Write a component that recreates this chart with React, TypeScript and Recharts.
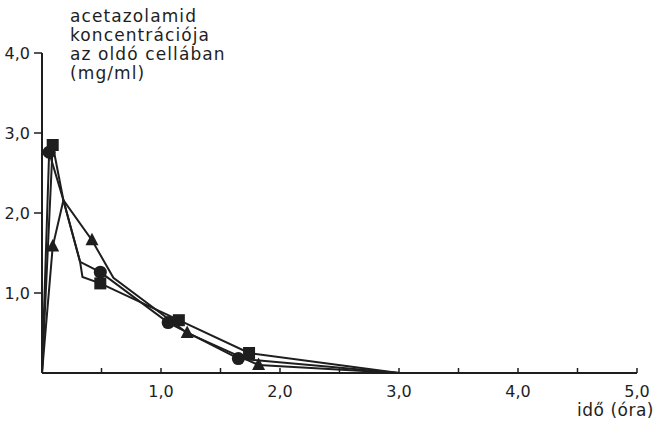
import React from 'react';
import { LineChart, Line, XAxis, YAxis } from 'recharts';

// time (h) and concentration (mg/ml) for the three formulations;
// only the measured points get a marker, the rest are bends of the drawn curve
const circleTime = [0, 0.06, 0.18, 0.32, 0.49, 1.06, 1.65, 3.0];
const circleConc = [0, 2.76, 2.16, 1.39, 1.26, 0.63, 0.18, 0];
const circleMeasured = [false, true, false, false, true, true, true, false];

const squareTime = [0, 0.09, 0.18, 0.32, 0.34, 0.49, 1.15, 1.74, 3.0];
const squareConc = [0, 2.85, 2.16, 1.39, 1.2, 1.12, 0.66, 0.25, 0];
const squareMeasured = [false, true, false, false, false, true, true, true, false];

const triangleTime = [0, 0.09, 0.18, 0.42, 0.6, 1.22, 1.82, 3.0];
const triangleConc = [0, 1.58, 2.16, 1.66, 1.19, 0.5, 0.1, 0];
const triangleMeasured = [false, true, false, true, false, true, true, false];

const xTicks = [0.5, 1, 1.5, 2, 2.5, 3, 3.5, 4, 4.5, 5];
const yTicks = [1, 2, 3, 4];

const titleLines = ['acetazolamid', 'koncentrációja', 'az oldó cellában', '(mg/ml)'];
const xTitle = 'idő (óra)';

const INK = '#1e1e1e';
const FONT = '"DejaVu Sans", sans-serif';

const toRows = (ts: number[], cs: number[]) => ts.map((t, i) => ({ t, c: cs[i] }));

const fmt = (v: number) => v.toFixed(1).replace('.', ',');

type Kind = 'circle' | 'square' | 'triangle';

const makeDot = (kind: Kind, measured: boolean[]) => (props: any) => {
  const { cx, cy, index } = props;
  const key = `${kind}-${index}`;
  if (!measured[index]) return <g key={key} />;
  if (kind === 'circle') return <circle key={key} cx={cx} cy={cy} r={6.5} fill={INK} />;
  if (kind === 'square')
    return <rect key={key} x={cx - 6} y={cy - 6} width={12} height={12} fill={INK} />;
  return (
    <polygon
      key={key}
      points={`${cx},${cy - 7.5} ${cx - 6.5},${cy + 5} ${cx + 6.5},${cy + 5}`}
      fill={INK}
    />
  );
};

const TimeTick = (props: any) => {
  const { x, y, payload } = props;
  const v = payload.value as number;
  const whole = Number.isInteger(v);
  return (
    <g>
      <line x1={x} y1={y} x2={x} y2={y - 5} stroke={INK} strokeWidth={1.5} />
      {whole && (
        <text x={x} y={y + 24} textAnchor="middle" fontSize={16} fontFamily={FONT} fill={INK}>
          {fmt(v)}
        </text>
      )}
    </g>
  );
};

const series: { kind: Kind; ts: number[]; cs: number[]; m: boolean[] }[] = [
  { kind: 'triangle', ts: triangleTime, cs: triangleConc, m: triangleMeasured },
  { kind: 'circle', ts: circleTime, cs: circleConc, m: circleMeasured },
  { kind: 'square', ts: squareTime, cs: squareConc, m: squareMeasured },
];

export default function App() {
  return (
    <div style={{ position: 'absolute', left: 0, top: 0, width: 654, height: 427, background: '#fff' }}>
      <LineChart width={654} height={427} margin={{ top: 53, right: 17, bottom: 0, left: 0 }}>
        <XAxis
          dataKey="t"
          type="number"
          domain={[0, 5]}
          ticks={xTicks}
          allowDuplicatedCategory={false}
          height={54}
          tickSize={0}
          tickMargin={0}
          tickLine={false}
          axisLine={{ stroke: INK, strokeWidth: 2 }}
          tick={<TimeTick />}
          interval={0}
        />
        <YAxis
          type="number"
          domain={[0, 4]}
          ticks={yTicks}
          width={42}
          tickSize={8}
          tickMargin={4}
          tickFormatter={fmt}
          axisLine={{ stroke: INK, strokeWidth: 2 }}
          tickLine={{ stroke: INK, strokeWidth: 1.5 }}
          tick={{ fontSize: 16, fontFamily: FONT, fill: INK }}
          interval={0}
        />
        {series.map((s) => (
          <Line
            key={s.kind}
            data={toRows(s.ts, s.cs)}
            dataKey="c"
            type="linear"
            stroke={INK}
            strokeWidth={2}
            dot={makeDot(s.kind, s.m)}
            activeDot={false}
            isAnimationActive={false}
          />
        ))}
      </LineChart>
      <div
        style={{
          position: 'absolute',
          left: 70,
          top: 7,
          fontFamily: FONT,
          fontSize: 17,
          lineHeight: '19px',
          letterSpacing: 1.1,
          color: INK,
        }}
      >
        {titleLines.map((l) => (
          <div key={l}>{l}</div>
        ))}
      </div>
      <div
        style={{
          position: 'absolute',
          right: 0,
          top: 403,
          fontFamily: FONT,
          fontSize: 17,
          lineHeight: '14px',
          letterSpacing: 0.5,
          color: INK,
        }}
      >
        {xTitle}
      </div>
    </div>
  );
}
